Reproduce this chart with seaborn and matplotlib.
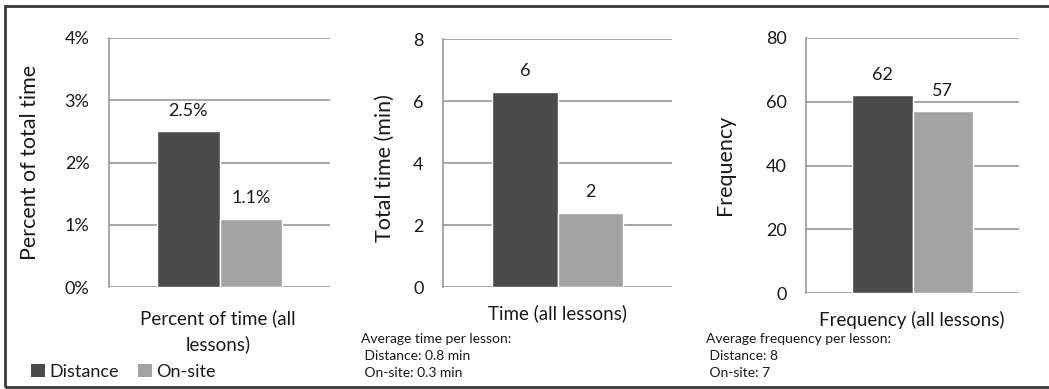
import matplotlib
matplotlib.use("Agg")
import matplotlib.pyplot as plt
from matplotlib.patches import Rectangle, Patch
from matplotlib.ticker import FuncFormatter
import seaborn as sns
import pandas as pd

# ---- data ----
modes = ["Distance", "On-site"]
percent_of_time = [2.5, 1.1]          # percent of total lesson time
total_time_min = [6.3, 2.4]           # total minutes over all lessons
frequency = [62, 57]                  # count over all lessons

panel_categories = ["Percent of time (all\nlessons)", "Time (all lessons)", "Frequency (all lessons)"]
panel_ylabels = ["Percent of total time", "Total time (min)", "Frequency"]
panel_yticks = [[0, 1, 2, 3, 4], [0, 2, 4, 6, 8], [0, 20, 40, 60, 80]]
panel_notes = [
    None,
    "Average time per lesson:\n Distance: 0.8 min\n On-site: 0.3 min",
    "Average frequency per lesson:\n Distance: 8\n On-site: 7",
]

colors = {"Distance": "#4b4b4b", "On-site": "#a3a3a3"}
grid_col = "#8f8f8f"
text_col = "#1a1a1a"

sns.set_theme(style="white")
plt.rcParams["font.family"] = ["Lato", "DejaVu Sans"]
plt.rcParams["text.color"] = text_col

fig = plt.figure(figsize=(10.49, 3.89), dpi=100)

W, H = 1049, 389
def box(l, r, t, b):
    return [l / W, 1 - b / H, (r - l) / W, (b - t) / H]

axes_boxes = [box(109, 330, 38, 287), box(443, 672, 39, 287), box(806, 1019, 38, 293)]
series = [percent_of_time, total_time_min, frequency]
label_fmts = ["{:.1f}%", "{:.0f}", "{:.0f}"]
tick_fmts = [lambda v, p: f"{v:.0f}%", lambda v, p: f"{v:.0f}", lambda v, p: f"{v:.0f}"]
xlabel_pos = [(218, 331), (557, 313), (912, 320)]
ylabel_pos = [(30, 162), (385, 168), (725, 165)]
note_pos = [None, (361, 333), (706, 333)]

for i in range(3):
    ax = fig.add_axes(axes_boxes[i])
    df = pd.DataFrame({"metric": [panel_categories[i]] * 2, "mode": modes, "value": series[i]})
    sns.barplot(data=df, x="metric", y="value", hue="mode", hue_order=modes,
                palette=colors, width=0.57, ax=ax, legend=False, saturation=1)
    ax.set_xlim(-0.5, 0.5)
    ax.set_ylim(panel_yticks[i][0], panel_yticks[i][-1])
    ax.set_yticks(panel_yticks[i])
    ax.yaxis.set_major_formatter(FuncFormatter(tick_fmts[i]))
    ax.grid(axis="y", color=grid_col, linewidth=1.1)
    ax.set_axisbelow(True)
    for s in ["top", "right", "bottom"]:
        ax.spines[s].set_visible(False)
    ax.spines["left"].set_color(grid_col)
    ax.spines["left"].set_linewidth(1.1)
    ax.tick_params(axis="y", length=0, pad=14, labelsize=13, labelcolor=text_col)
    ax.set_xticks([])
    ax.set_xlabel("")
    ax.set_ylabel("")
    for cont in ax.containers:
        ax.bar_label(cont, labels=[label_fmts[i].format(v) for v in cont.datavalues],
                     padding=9, fontsize=13, color=text_col)
    fig.text(xlabel_pos[i][0] / W, 1 - xlabel_pos[i][1] / H, panel_categories[i],
             ha="center", va="center", fontsize=13.5, linespacing=1.55, color=text_col)
    fig.text(ylabel_pos[i][0] / W, 1 - ylabel_pos[i][1] / H, panel_ylabels[i],
             ha="center", va="center", rotation=90, fontsize=15.5, color=text_col)
    if panel_notes[i]:
        fig.text(note_pos[i][0] / W, 1 - note_pos[i][1] / H, panel_notes[i],
                 ha="left", va="top", fontsize=10, linespacing=1.5, color=text_col)

handles = [Patch(facecolor=colors[m], edgecolor="none", label=m) for m in modes]
fig.legend(handles=handles, loc="center left", bbox_to_anchor=(31 / W, 1 - 372 / H),
           ncol=2, frameon=False, fontsize=13, handlelength=0.75, handleheight=0.75,
           handletextpad=0.25, columnspacing=1.1, borderpad=0, borderaxespad=0)

# outer frame around the figure
fig.patches.append(Rectangle((5 / W, 2 / H), 1.2, (381 / H), transform=fig.transFigure,
                             fill=False, edgecolor="#3a3a3a", linewidth=2, clip_on=False))

fig.savefig("out.png", dpi=100, facecolor="white")
